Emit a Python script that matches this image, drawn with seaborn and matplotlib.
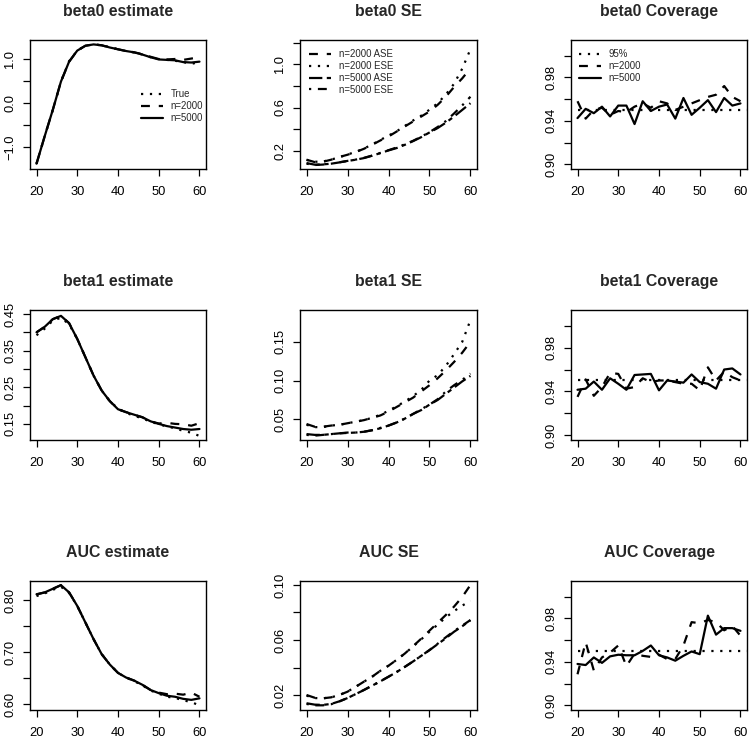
### Simulation summary: estimates, standard errors and coverage by age.

import matplotlib
matplotlib.use('Agg')
import matplotlib.pyplot as plt
import seaborn as sns
import numpy as np

sns.set_theme(style='white')
plt.rcParams['font.family'] = ['Liberation Sans', 'DejaVu Sans']
plt.rcParams['axes.unicode_minus'] = True


# ---- data ----
AGES = [20, 22, 24, 26, 28, 30, 32, 34, 36, 38, 40, 42, 44, 46, 48, 50, 52, 54, 56, 58, 60]
NOMINAL = 0.95

b0_true = [-1.37, -0.75, -0.15, 0.49, 0.95, 1.19, 1.30, 1.33, 1.31, 1.27, 1.22, 1.18, 1.15, 1.10, 1.04, 1.00, 0.98, 0.96, 0.93, 0.89, 0.93]
b0_n2000 = [-1.37, -0.75, -0.15, 0.49, 0.94, 1.19, 1.30, 1.33, 1.31, 1.26, 1.22, 1.18, 1.15, 1.11, 1.05, 1.00, 0.99, 1.00, 0.98, 1.01, 1.04]
b0_n5000 = [-1.37, -0.75, -0.15, 0.49, 0.94, 1.19, 1.30, 1.33, 1.31, 1.26, 1.22, 1.18, 1.15, 1.10, 1.04, 0.99, 0.98, 0.97, 0.93, 0.92, 0.94]

b1_true = [0.392, 0.410, 0.432, 0.440, 0.422, 0.382, 0.332, 0.282, 0.241, 0.212, 0.192, 0.180, 0.172, 0.165, 0.156, 0.149, 0.143, 0.138, 0.131, 0.126, 0.117]
b1_n2000 = [0.400, 0.415, 0.436, 0.445, 0.425, 0.382, 0.332, 0.282, 0.241, 0.212, 0.190, 0.182, 0.175, 0.168, 0.157, 0.151, 0.153, 0.150, 0.149, 0.145, 0.152]
b1_n5000 = [0.400, 0.415, 0.436, 0.445, 0.425, 0.382, 0.332, 0.282, 0.241, 0.212, 0.190, 0.182, 0.175, 0.168, 0.157, 0.150, 0.144, 0.140, 0.136, 0.134, 0.136]

auc_true = [0.808, 0.813, 0.820, 0.826, 0.814, 0.789, 0.757, 0.725, 0.696, 0.676, 0.660, 0.651, 0.644, 0.636, 0.626, 0.620, 0.614, 0.612, 0.607, 0.604, 0.597]
auc_n2000 = [0.811, 0.815, 0.822, 0.829, 0.815, 0.789, 0.757, 0.725, 0.696, 0.676, 0.660, 0.651, 0.645, 0.637, 0.627, 0.622, 0.619, 0.620, 0.618, 0.622, 0.614]
auc_n5000 = [0.8115, 0.815, 0.822, 0.829, 0.815, 0.789, 0.757, 0.725, 0.696, 0.676, 0.660, 0.651, 0.645, 0.637, 0.627, 0.621, 0.616, 0.614, 0.610, 0.608, 0.611]

b0se_2000_ase = [0.117, 0.095, 0.098, 0.117, 0.142, 0.163, 0.188, 0.218, 0.255, 0.295, 0.332, 0.378, 0.425, 0.471, 0.517, 0.563, 0.625, 0.700, 0.790, 0.870, 0.963]
b0se_2000_ese = [0.115, 0.098, 0.100, 0.118, 0.140, 0.165, 0.190, 0.220, 0.258, 0.300, 0.340, 0.380, 0.430, 0.480, 0.525, 0.580, 0.640, 0.720, 0.820, 0.960, 1.140]
b0se_5000_ase = [0.086, 0.071, 0.074, 0.080, 0.092, 0.105, 0.117, 0.132, 0.154, 0.178, 0.203, 0.225, 0.255, 0.289, 0.326, 0.369, 0.410, 0.460, 0.517, 0.578, 0.640]
b0se_5000_ese = [0.080, 0.068, 0.072, 0.080, 0.093, 0.106, 0.118, 0.134, 0.155, 0.180, 0.205, 0.230, 0.260, 0.292, 0.330, 0.372, 0.420, 0.475, 0.545, 0.620, 0.700]

b1se_2000_ase = [0.044, 0.0405, 0.0405, 0.042, 0.043, 0.045, 0.047, 0.049, 0.052, 0.055, 0.060, 0.066, 0.072, 0.078, 0.086, 0.094, 0.103, 0.113, 0.124, 0.136, 0.150]
b1se_2000_ese = [0.043, 0.040, 0.040, 0.042, 0.043, 0.045, 0.047, 0.049, 0.052, 0.056, 0.061, 0.067, 0.073, 0.080, 0.088, 0.100, 0.107, 0.119, 0.134, 0.150, 0.178]
b1se_5000_ase = [0.031, 0.030, 0.030, 0.031, 0.032, 0.0325, 0.033, 0.034, 0.036, 0.0385, 0.042, 0.046, 0.051, 0.057, 0.062, 0.069, 0.075, 0.083, 0.091, 0.099, 0.106]
b1se_5000_ese = [0.030, 0.029, 0.030, 0.031, 0.032, 0.033, 0.033, 0.034, 0.036, 0.039, 0.042, 0.046, 0.051, 0.057, 0.063, 0.069, 0.076, 0.086, 0.094, 0.101, 0.109]

aucse_2000_ase = [0.020, 0.018, 0.0176, 0.0183, 0.020, 0.0224, 0.026, 0.0297, 0.0333, 0.0376, 0.0413, 0.0456, 0.0502, 0.0555, 0.0610, 0.0668, 0.0725, 0.0782, 0.0843, 0.0913, 0.100]
aucse_2000_ese = [0.0195, 0.0178, 0.0176, 0.0183, 0.0200, 0.0225, 0.0260, 0.0297, 0.0333, 0.0376, 0.0413, 0.0456, 0.0502, 0.0553, 0.0605, 0.0660, 0.0712, 0.0765, 0.0810, 0.0850, 0.0885]
aucse_5000_ase = [0.014, 0.013, 0.0128, 0.0135, 0.0154, 0.0178, 0.0207, 0.0236, 0.0268, 0.0299, 0.0333, 0.0367, 0.0405, 0.0444, 0.0485, 0.0526, 0.057, 0.0613, 0.066, 0.070, 0.0744]
aucse_5000_ese = [0.0135, 0.0125, 0.0125, 0.0133, 0.0153, 0.0178, 0.0207, 0.0237, 0.0268, 0.0300, 0.0333, 0.0368, 0.0405, 0.0444, 0.0485, 0.0527, 0.0573, 0.0620, 0.0665, 0.0705, 0.0745]

b0cov_n2000 = [0.958, 0.942, 0.950, 0.952, 0.9455, 0.949, 0.948, 0.953, 0.956, 0.952, 0.958, 0.956, 0.950, 0.953, 0.956, 0.959, 0.962, 0.964, 0.972, 0.962, 0.958]
b0cov_n5000 = [0.9425, 0.951, 0.947, 0.953, 0.944, 0.954, 0.954, 0.937, 0.958, 0.949, 0.953, 0.955, 0.942, 0.961, 0.9455, 0.952, 0.959, 0.948, 0.961, 0.954, 0.956]

b1cov_n2000 = [0.935, 0.951, 0.936, 0.944, 0.957, 0.956, 0.9425, 0.944, 0.952, 0.9485, 0.950, 0.950, 0.9485, 0.947, 0.947, 0.941, 0.962, 0.950, 0.958, 0.953, 0.950]
b1cov_n5000 = [0.9415, 0.9425, 0.949, 0.9415, 0.952, 0.947, 0.9415, 0.955, 0.9555, 0.956, 0.941, 0.950, 0.949, 0.948, 0.9555, 0.9485, 0.947, 0.9425, 0.960, 0.961, 0.9555]

auccov_n2000 = [0.9285, 0.958, 0.932, 0.944, 0.9485, 0.955, 0.936, 0.9475, 0.9455, 0.9445, 0.9465, 0.9425, 0.9425, 0.955, 0.9765, 0.9755, 0.9785, 0.9765, 0.969, 0.973, 0.964]
auccov_n5000 = [0.938, 0.937, 0.944, 0.939, 0.945, 0.9465, 0.946, 0.946, 0.950, 0.955, 0.946, 0.944, 0.941, 0.9455, 0.9495, 0.947, 0.9825, 0.965, 0.971, 0.971, 0.9685]

# ---- styles (R lty equivalents) ----
LS_DOT = (0, (1, 3))
LS_DASH = (0, (4, 4))
LS_TWODASH = (0, (6, 2, 2, 2))
LS_DOTDASH = (0, (1, 3, 4, 3))
LW = 1.6
TICK_FS = 9.3
TITLE_FS = 11.4
LEG_FS = 6.9

W, H = 750, 741
COLS = [(30, 206), (300, 477), (571, 747)]
ROWS = [(40, 169), (310, 440), (581, 710)]


def make_ax(fig, r, c):
  x0, x1 = COLS[c]
  y0, y1 = ROWS[r]
  ax = fig.add_axes([x0 / W, 1 - y1 / H, (x1 - x0) / W, (y1 - y0) / H])
  return ax


def style_ax(ax, title, yticks, ylabels, ylim):
  ax.set_xlim(18.4, 61.6)
  ax.set_ylim(*ylim)
  ax.set_xticks([20, 30, 40, 50, 60])
  ax.set_yticks(yticks)
  ax.set_yticklabels(ylabels, rotation=90, va='center')
  ax.tick_params(axis='both', direction='out', length=4.8, width=0.9, colors='black',
                 labelsize=TICK_FS, left=True, bottom=True)
  ax.tick_params(axis='x', pad=7.5)
  ax.tick_params(axis='y', pad=5)
  for s in ax.spines.values():
    s.set_color('black')
    s.set_linewidth(1.0)
  ax.set_xlabel('')
  ax.set_ylabel('')
  ax.set_title(title, fontsize=TITLE_FS, fontweight='bold', pad=17.5)


def line(ax, y, ls, label=None):
  sns.lineplot(x=AGES, y=y, ax=ax, color='black', linestyle=ls, linewidth=LW,
               label=label, legend=False)


def legend(ax, anchor):
  ax.legend(loc='upper left', bbox_to_anchor=anchor, frameon=False, fontsize=LEG_FS,
            handlelength=2.3, handletextpad=0.8, labelspacing=0.2, borderpad=0,
            borderaxespad=0)


fig = plt.figure(figsize=(W / 100, H / 100), dpi=100)

est_rows = [
  ('beta0 estimate', b0_true, b0_n2000, b0_n5000,
   [-1.0, -0.5, 0.0, 0.5, 1.0], ['\u22121.0', '', '0.0', '', '1.0'], (-1.49, 1.43)),
  ('beta1 estimate', b1_true, b1_n2000, b1_n5000,
   [0.15, 0.20, 0.25, 0.30, 0.35, 0.40, 0.45], ['0.15', '', '0.25', '', '0.35', '', '0.45'], (0.106, 0.461)),
  ('AUC estimate', auc_true, auc_n2000, auc_n5000,
   [0.60, 0.65, 0.70, 0.75, 0.80], ['0.60', '', '0.70', '', '0.80'], (0.5885, 0.837)),
]
se_rows = [
  ('beta0 SE', b0se_2000_ase, b0se_2000_ese, b0se_5000_ase, b0se_5000_ese,
   [0.2, 0.4, 0.6, 0.8, 1.0, 1.2], ['0.2', '', '0.6', '', '1.0', ''], (0.031, 1.225)),
  ('beta1 SE', b1se_2000_ase, b1se_2000_ese, b1se_5000_ase, b1se_5000_ese,
   [0.05, 0.10, 0.15], ['0.05', '0.10', '0.15'], (0.0234, 0.191)),
  ('AUC SE', aucse_2000_ase, aucse_2000_ese, aucse_5000_ase, aucse_5000_ese,
   [0.02, 0.04, 0.06, 0.08, 0.10], ['0.02', '', '0.06', '', '0.10'], (0.0091, 0.1029)),
]
cov_rows = [
  ('beta0 Coverage', b0cov_n2000, b0cov_n5000),
  ('beta1 Coverage', b1cov_n2000, b1cov_n5000),
  ('AUC Coverage', auccov_n2000, auccov_n5000),
]
cov_ticks = [0.90, 0.92, 0.94, 0.96, 0.98, 1.00]
cov_labels = ['0.90', '', '0.94', '', '0.98', '']

for r in range(3):
  # estimates
  title, tru, n2, n5, yt, yl, lim = est_rows[r]
  ax = make_ax(fig, r, 0)
  line(ax, tru, LS_DOT, 'True')
  line(ax, n2, LS_DASH, 'n=2000')
  line(ax, n5, '-', 'n=5000')
  style_ax(ax, title, yt, yl, lim)
  if r == 0:
    legend(ax, (0.63, 0.617))

  # standard errors
  title, a2, e2, a5, e5, yt, yl, lim = se_rows[r]
  ax = make_ax(fig, r, 1)
  line(ax, a2, LS_DASH, 'n=2000 ASE')
  line(ax, e2, LS_DOT, 'n=2000 ESE')
  line(ax, a5, LS_TWODASH, 'n=5000 ASE')
  line(ax, e5, LS_DOTDASH, 'n=5000 ESE')
  style_ax(ax, title, yt, yl, lim)
  if r == 0:
    legend(ax, (0.05, 0.93))

  # coverage
  title, c2, c5 = cov_rows[r]
  ax = make_ax(fig, r, 2)
  ax.hlines(NOMINAL, AGES[0], 61.6, colors='black', linestyles=LS_DOT, linewidth=LW, label='95%')
  line(ax, c2, LS_DASH, 'n=2000')
  line(ax, c5, '-', 'n=5000')
  style_ax(ax, title, cov_ticks, cov_labels, (0.8956, 1.0144))
  if r == 0:
    legend(ax, (0.045, 0.93))

fig.savefig('out.png', dpi=100)
